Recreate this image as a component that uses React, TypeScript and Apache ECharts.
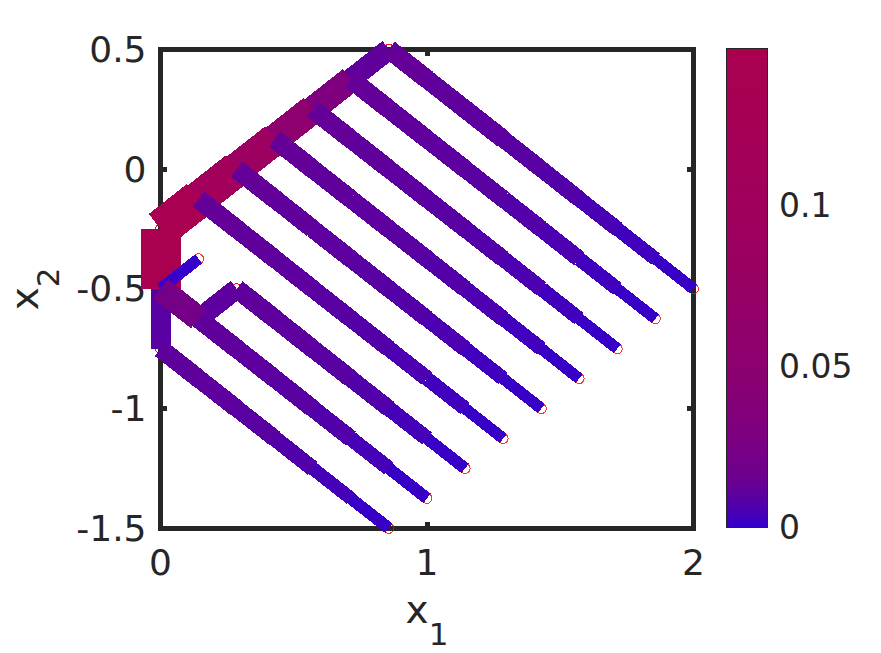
import React, { useEffect, useRef } from "react";
import * as echarts from "echarts";

// ---- tick labels / axis ranges
const xTicks = { min: 0, max: 2, step: 1 };
const yTicks = { min: -1.5, max: 0.5, step: 0.5 };
const colorbarTicks = [0, 0.05, 0.1];
const colorbarMax = 0.149;

// ---- colour scale (value -> colour)
const scaleValues = [0, 0.002, 0.0064, 0.012, 0.0168, 0.027, 0.0375, 0.05, 0.08, 0.1, 0.125, 0.149];
const scaleColors = ["#3300cc", "#3d00c2", "#5000ac", "#640098", "#6f008d", "#7b0081", "#840078", "#8c0070", "#9a0062", "#a0005c", "#a60056", "#aa0050"];

// ---- members: node coordinates along each member line, per-segment area and value
const chordX = [0.857, 0.714, 0.571, 0.429, 0.286, 0.143, 0];
const chordY = [0.5, 0.375, 0.25, 0.125, 0, -0.125, -0.25];
const chordArea = [21, 25.6, 29, 32, 35, 38];
const chordValue = [0.011, 0.03, 0.055, 0.085, 0.11, 0.145];

const webX = [0, 0, 0];
const webY = [-0.25, -0.5, -0.75];
const webArea = [40, 20];
const webValue = [0.149, 0.009];

const stubX = [0, 0.143];
const stubY = [-0.5, -0.375];
const stubArea = [11.5];
const stubValue = [0.0005];

const line0X = [0.857, 1.0, 1.143, 1.286, 1.429, 1.571, 1.714, 1.857, 2.0];
const line0Y = [0.5, 0.375, 0.25, 0.125, 0, -0.125, -0.25, -0.375, -0.5];
const line0Area = [19, 18.5, 18.5, 17, 16.5, 15.5, 14, 11.5];
const line0Value = [0.012, 0.011, 0.01, 0.009, 0.0075, 0.005, 0.003, 0.001];

const line1X = [0.714, 0.857, 1.0, 1.143, 1.286, 1.429, 1.571, 1.714, 1.857];
const line1Y = [0.375, 0.25, 0.125, 0, -0.125, -0.25, -0.375, -0.5, -0.625];
const line1Area = [19, 18.5, 18, 17.5, 17, 16.5, 14.5, 11.5];
const line1Value = [0.012, 0.011, 0.01, 0.009, 0.0075, 0.0055, 0.003, 0.001];

const line2X = [0.571, 0.714, 0.857, 1.0, 1.143, 1.286, 1.429, 1.571, 1.714];
const line2Y = [0.25, 0.125, 0, -0.125, -0.25, -0.375, -0.5, -0.625, -0.75];
const line2Area = [19, 18.5, 18, 17.5, 17, 16, 14.5, 11.5];
const line2Value = [0.012, 0.011, 0.01, 0.009, 0.0075, 0.0055, 0.003, 0.001];

const line3X = [0.429, 0.571, 0.714, 0.857, 1.0, 1.143, 1.286, 1.429, 1.571];
const line3Y = [0.125, 0, -0.125, -0.25, -0.375, -0.5, -0.625, -0.75, -0.875];
const line3Area = [19, 18.5, 18, 17.5, 17, 16, 14.5, 11.5];
const line3Value = [0.012, 0.011, 0.01, 0.009, 0.0075, 0.0055, 0.003, 0.001];

const line4X = [0.286, 0.429, 0.571, 0.714, 0.857, 1.0, 1.143, 1.286, 1.429];
const line4Y = [0, -0.125, -0.25, -0.375, -0.5, -0.625, -0.75, -0.875, -1.0];
const line4Area = [19, 18.5, 18, 17.5, 17, 16, 14.5, 11.5];
const line4Value = [0.012, 0.011, 0.01, 0.009, 0.0075, 0.0055, 0.003, 0.001];

const line5X = [0.143, 0.286, 0.429, 0.571, 0.714, 0.857, 1.0, 1.143, 1.286];
const line5Y = [-0.125, -0.25, -0.375, -0.5, -0.625, -0.75, -0.875, -1.0, -1.125];
const line5Area = [19, 18.5, 18, 17.5, 17, 16, 14.5, 11.5];
const line5Value = [0.012, 0.011, 0.01, 0.009, 0.0075, 0.0055, 0.003, 0.001];

const line6X = [0.286, 0.429, 0.571, 0.714, 0.857, 1.0, 1.143];
const line6Y = [-0.5, -0.625, -0.75, -0.875, -1.0, -1.125, -1.25];
const line6Area = [19, 18.5, 18, 17, 15.5, 12];
const line6Value = [0.011, 0.01, 0.009, 0.007, 0.004, 0.001];

const line7X = [0.143, 0.286, 0.429, 0.571, 0.714, 0.857, 1.0];
const line7Y = [-0.625, -0.75, -0.875, -1.0, -1.125, -1.25, -1.375];
const line7Area = [19, 18.5, 18, 17, 15, 12];
const line7Value = [0.011, 0.01, 0.009, 0.007, 0.004, 0.001];

const line8X = [0, 0.143, 0.286, 0.429, 0.571, 0.714, 0.857];
const line8Y = [-0.75, -0.875, -1.0, -1.125, -1.25, -1.375, -1.5];
const line8Area = [18.5, 18, 17, 16, 13.5, 12];
const line8Value = [0.011, 0.01, 0.009, 0.007, 0.004, 0.001];

const connectorX = [0.143, 0.286];
const connectorY = [-0.625, -0.5];
const connectorArea = [20];
const connectorValue = [0.01];

const braceX = [0, 0.143];
const braceY = [-0.5, -0.625];
const braceArea = [24.5];
const braceValue = [0.021];

// drawing order: later lines sit on top
const lines: [number[], number[], number[], number[]][] = [
  [chordX, chordY, chordArea, chordValue],
  [webX, webY, webArea, webValue],
  [stubX, stubY, stubArea, stubValue],
  [line0X, line0Y, line0Area, line0Value],
  [line1X, line1Y, line1Area, line1Value],
  [line2X, line2Y, line2Area, line2Value],
  [line3X, line3Y, line3Area, line3Value],
  [line4X, line4Y, line4Area, line4Value],
  [line5X, line5Y, line5Area, line5Value],
  [connectorX, connectorY, connectorArea, connectorValue],
  [line6X, line6Y, line6Area, line6Value],
  [line7X, line7Y, line7Area, line7Value],
  [line8X, line8Y, line8Area, line8Value],
  [braceX, braceY, braceArea, braceValue],
];

const INK = "#262626";
const FONT = "DejaVu Sans";

function hexToRgb(h: string) {
  return [1, 3, 5].map((i) => parseInt(h.slice(i, i + 2), 16));
}
function colorOf(v: number) {
  let i = 0;
  while (i < scaleValues.length - 2 && v > scaleValues[i + 1]) i++;
  const t = Math.max(0, Math.min(1, (v - scaleValues[i]) / (scaleValues[i + 1] - scaleValues[i])));
  const a = hexToRgb(scaleColors[i]);
  const b = hexToRgb(scaleColors[i + 1]);
  const c = a.map((x, k) => Math.round(x + (b[k] - x) * t));
  return `rgb(${c[0]},${c[1]},${c[2]})`;
}

export default function App() {
  const ref = useRef<HTMLDivElement>(null);
  useEffect(() => {
    document.body.style.margin = "0";
    const chart = echarts.init(ref.current!, null, { renderer: "svg" });

    const segments: number[][] = [];
    const nodes: number[][] = [];
    lines.forEach(([xs, ys, areas, values]) => {
      areas.forEach((a, i) => {
        segments.push([xs[i], ys[i], xs[i + 1], ys[i + 1], a, values[i]]);
      });
      xs.forEach((x, i) => nodes.push([x, ys[i]]));
    });

    const baseTick = { show: true, inside: true, length: 6.5, lineStyle: { color: INK, width: 5 } };
    const hiddenLine = { show: false, onZero: false };
    const labelStyle = { color: INK, fontFamily: FONT, fontSize: 36 };
    const nameRich = {
      x: { fontSize: 39, fontFamily: FONT, color: INK, verticalAlign: "bottom", padding: [0, 0, 20, 0] },
      s: { fontSize: 31, fontFamily: FONT, color: INK, verticalAlign: "bottom" },
    };

    chart.setOption({
      animation: false,
      backgroundColor: "#ffffff",
      grid: [
        { left: 160.5, right: 187.5, top: 49.3, bottom: 124.7, show: true, borderWidth: 5, borderColor: INK, backgroundColor: "#ffffff", outerBoundsMode: "none", containLabel: false },
        { left: 726, width: 41, top: 48.5, bottom: 126, show: false, outerBoundsMode: "none", containLabel: false },
      ],
      xAxis: [
        {
          type: "value", gridIndex: 0, min: xTicks.min, max: xTicks.max, interval: xTicks.step, position: "bottom",
          axisLine: hiddenLine, splitLine: { show: false }, axisTick: baseTick,
          axisLabel: { ...labelStyle, margin: 16 },
          name: "{x|x}{s|1}", nameLocation: "middle", nameGap: 62,
          nameTextStyle: { color: INK, fontFamily: FONT, rich: nameRich },
        },
        {
          type: "value", gridIndex: 0, min: xTicks.min, max: xTicks.max, interval: xTicks.step, position: "top",
          axisLine: hiddenLine, splitLine: { show: false }, axisTick: baseTick, axisLabel: { show: false },
        },
        { type: "value", gridIndex: 1, min: 0, max: 1, show: false },
      ],
      yAxis: [
        {
          type: "value", gridIndex: 0, min: yTicks.min, max: yTicks.max, interval: yTicks.step, position: "left",
          axisLine: hiddenLine, splitLine: { show: false }, axisTick: baseTick,
          axisLabel: { ...labelStyle, margin: 14 },
          name: "{x|x}{s|2}", nameLocation: "middle", nameGap: 97, nameRotate: 90,
          nameTextStyle: { color: INK, fontFamily: FONT, rich: nameRich },
        },
        {
          type: "value", gridIndex: 0, min: yTicks.min, max: yTicks.max, interval: yTicks.step, position: "right",
          axisLine: hiddenLine, splitLine: { show: false }, axisTick: baseTick, axisLabel: { show: false },
        },
        {
          type: "value", gridIndex: 1, min: 0, max: colorbarMax, position: "right",
          axisLine: hiddenLine, splitLine: { show: false },
          axisTick: { show: true, inside: true, length: 5, customValues: colorbarTicks, lineStyle: { color: INK, width: 1 } },
          axisLabel: { color: INK, fontFamily: FONT, fontSize: 33, margin: 12, customValues: colorbarTicks, formatter: (v: number) => String(v) },
        },
      ],
      series: [
        {
          type: "scatter", xAxisIndex: 0, yAxisIndex: 0, z: 2, clip: false, data: nodes,
          symbol: "circle", symbolSize: 10, silent: true,
          itemStyle: { color: "transparent", borderColor: "#ff0000", borderWidth: 1 },
        },
        {
          type: "custom", xAxisIndex: 0, yAxisIndex: 0, z: 3, clip: false, data: segments, silent: true,
          encode: { x: [0, 2], y: [1, 3] },
          renderItem: (_p: any, api: any) => {
            const a = api.coord([api.value(0), api.value(1)]);
            const b = api.coord([api.value(2), api.value(3)]);
            const w = api.value(4) / 2;
            const dx = b[0] - a[0];
            const dy = b[1] - a[1];
            const len = Math.hypot(dx, dy);
            const nx = (-dy / len) * w;
            const ny = (dx / len) * w;
            return {
              type: "polygon",
              shape: { points: [[a[0] + nx, a[1] + ny], [b[0] + nx, b[1] + ny], [b[0] - nx, b[1] - ny], [a[0] - nx, a[1] - ny]] },
              style: { fill: colorOf(api.value(5)) },
            };
          },
        },
        {
          type: "custom", xAxisIndex: 2, yAxisIndex: 2, z: 2, silent: true,
          data: [[0, 0, 1, colorbarMax]],
          encode: { x: [0, 2], y: [1, 3] },
          renderItem: (_p: any, api: any) => {
            const a = api.coord([api.value(0), api.value(3)]);
            const b = api.coord([api.value(2), api.value(1)]);
            return {
              type: "rect",
              z2: -1,
              shape: { x: a[0], y: a[1], width: b[0] - a[0], height: b[1] - a[1] },
              style: {
                stroke: INK, lineWidth: 1,
                fill: new echarts.graphic.LinearGradient(0, 1, 0, 0,
                  scaleValues.map((v, i) => ({ offset: v / colorbarMax, color: scaleColors[i] }))),
              },
            };
          },
        },
      ],
    });
    // the reference's bars have hard, aliased edges and no seams between segments
    const svg = ref.current!.querySelector("svg");
    if (svg) svg.style.shapeRendering = "crispEdges";
    return () => chart.dispose();
  }, []);
  return <div ref={ref} style={{ width: 881, height: 653, position: "absolute", left: 0, top: 0 }} />;
}
